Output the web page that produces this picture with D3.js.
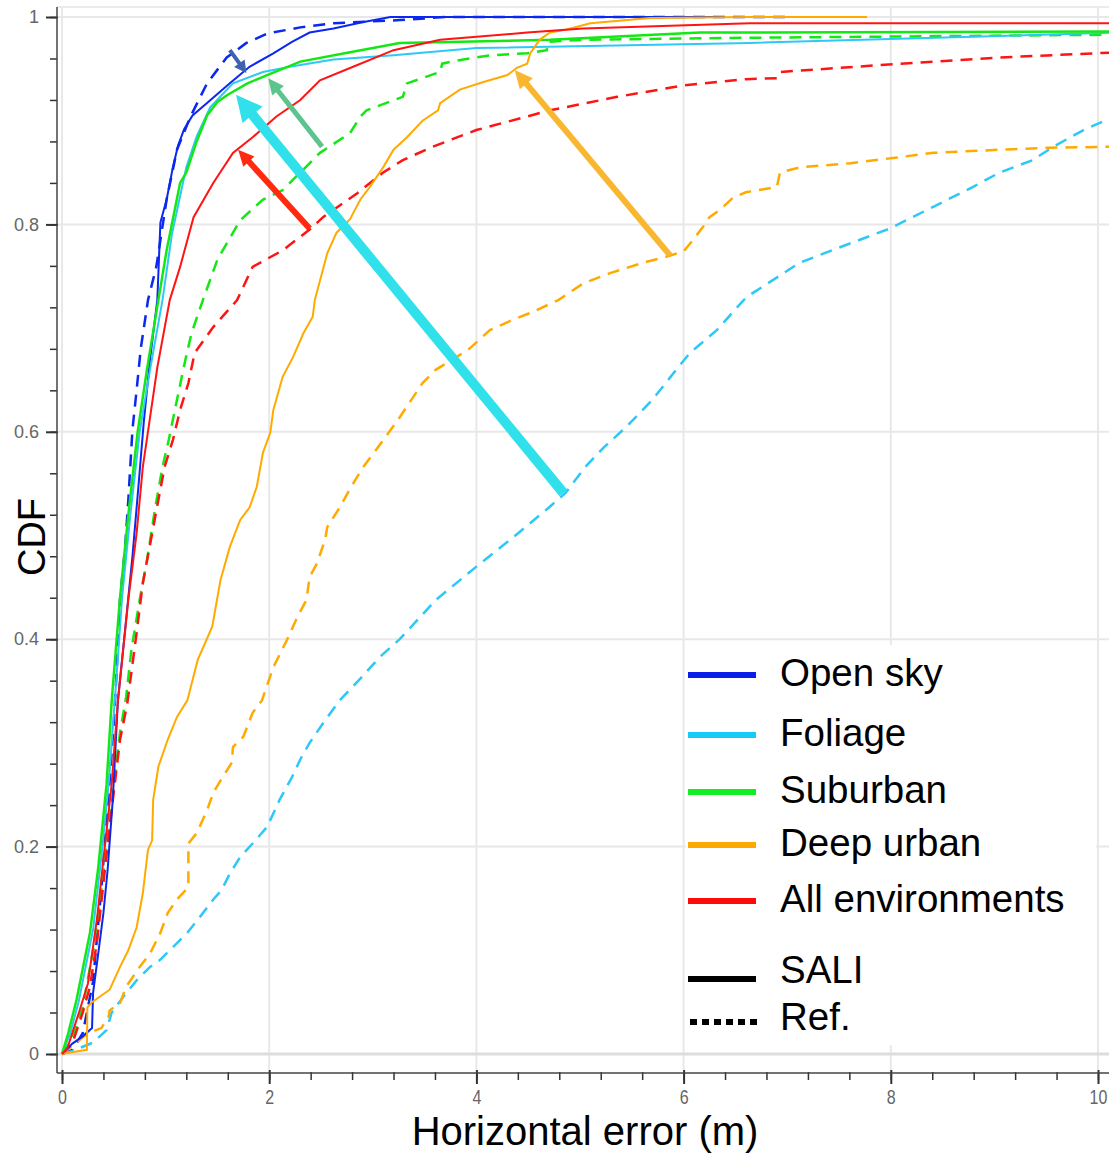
<!DOCTYPE html>
<html>
<head>
<meta charset="utf-8">
<script src="https://cdn.jsdelivr.net/npm/d3@7"></script>
<style>
body { margin: 0; background: #fff; }
svg { display: block; font-family: Arial, "Liberation Sans", sans-serif; }
</style>
</head>
<body>
<div id="cdf_chart"></div>
<script>
// CDF points [horizontal error (m), cdf]
var openSkySali = [[0,0],[0.1,0.01],[0.2,0.017],[0.29,0.025],[0.3,0.059],[0.35,0.097],[0.4,0.136],[0.44,0.177],[0.49,0.245],[0.54,0.341],[0.61,0.41],[0.68,0.48],[0.74,0.55],[0.79,0.61],[0.85,0.67],[0.92,0.727],[0.95,0.802],[1.01,0.824],[1.07,0.855],[1.12,0.876],[1.18,0.892],[1.26,0.905],[1.40,0.917],[1.62,0.936],[1.81,0.952],[2.04,0.965],[2.22,0.976],[2.39,0.985],[2.62,0.989],[2.9,0.995],[3.17,1.0],[6.3,1.0]];
var openSkyRef = [[0,0],[0.1,0.004],[0.2,0.02],[0.3,0.07],[0.38,0.16],[0.45,0.25],[0.5,0.32],[0.53,0.373],[0.56,0.438],[0.61,0.49],[0.64,0.534],[0.68,0.602],[0.72,0.64],[0.76,0.68],[0.83,0.727],[0.91,0.759],[1.01,0.824],[1.11,0.872],[1.24,0.904],[1.40,0.936],[1.59,0.961],[1.78,0.975],[1.98,0.984],[2.3,0.99],[2.62,0.994],[3.26,0.997],[3.7,1.0],[7.0,1.0]];
var foliageSali = [[0,0],[0.08,0.02],[0.16,0.05],[0.3,0.12],[0.38,0.19],[0.45,0.26],[0.51,0.341],[0.58,0.44],[0.66,0.52],[0.75,0.6],[0.85,0.66],[0.97,0.727],[1.06,0.79],[1.2,0.855],[1.3,0.885],[1.43,0.913],[1.65,0.936],[1.94,0.947],[2.20,0.952],[2.62,0.959],[3.2,0.963],[4.0,0.97],[6.64,0.975],[10.2,0.985]];
var foliageRef = [[0,0],[0.1,0.003],[0.3,0.011],[0.43,0.023],[0.48,0.04],[0.59,0.055],[0.72,0.071],[0.85,0.084],[0.95,0.091],[1.07,0.103],[1.21,0.117],[1.33,0.132],[1.46,0.149],[1.54,0.158],[1.62,0.174],[1.72,0.19],[1.84,0.203],[1.98,0.219],[2.10,0.245],[2.22,0.267],[2.30,0.284],[2.39,0.3],[2.52,0.319],[2.68,0.341],[2.88,0.362],[3.07,0.383],[3.26,0.4],[3.61,0.438],[4.0,0.47],[4.40,0.502],[4.70,0.527],[4.86,0.541],[5.05,0.566],[5.23,0.585],[5.45,0.605],[5.70,0.631],[5.93,0.66],[6.06,0.676],[6.32,0.698],[6.58,0.727],[6.67,0.734],[7.12,0.763],[7.51,0.778],[7.99,0.796],[8.41,0.817],[8.79,0.836],[9.05,0.85],[9.37,0.862],[9.57,0.875],[9.86,0.891],[10.2,0.906]];
var suburbanSali = [[0,0],[0.06,0.02],[0.14,0.052],[0.27,0.117],[0.35,0.18],[0.43,0.26],[0.48,0.341],[0.56,0.44],[0.64,0.52],[0.73,0.6],[0.82,0.66],[0.93,0.727],[1.01,0.775],[1.14,0.84],[1.2,0.85],[1.3,0.88],[1.40,0.905],[1.5,0.918],[1.6,0.925],[1.79,0.936],[1.98,0.944],[2.30,0.957],[2.78,0.966],[3.26,0.975],[4.71,0.978],[6.16,0.985],[10.2,0.986]];
var suburbanRef = [[0,0],[0.1,0.015],[0.2,0.045],[0.3,0.1],[0.37,0.15],[0.44,0.21],[0.5,0.26],[0.56,0.31],[0.62,0.345],[0.67,0.39],[0.75,0.438],[0.82,0.476],[0.90,0.527],[0.97,0.566],[1.03,0.592],[1.11,0.631],[1.19,0.669],[1.25,0.695],[1.36,0.727],[1.50,0.766],[1.72,0.804],[1.94,0.824],[2.13,0.833],[2.30,0.85],[2.49,0.869],[2.78,0.888],[2.88,0.904],[2.94,0.91],[3.29,0.923],[3.33,0.936],[3.65,0.947],[3.67,0.955],[3.81,0.958],[4.13,0.963],[4.49,0.965],[4.68,0.968],[4.69,0.976],[5.03,0.978],[6.64,0.98],[10.2,0.983]];
var deepUrbanSali = [[0,0],[0.05,0.001],[0.24,0.004],[0.245,0.045],[0.29,0.05],[0.46,0.062],[0.56,0.084],[0.64,0.1],[0.72,0.122],[0.78,0.155],[0.83,0.197],[0.87,0.206],[0.88,0.245],[0.93,0.277],[1.02,0.303],[1.11,0.325],[1.21,0.341],[1.31,0.38],[1.45,0.412],[1.53,0.457],[1.62,0.489],[1.72,0.515],[1.81,0.527],[1.88,0.547],[1.94,0.58],[2.01,0.599],[2.04,0.621],[2.13,0.653],[2.23,0.672],[2.33,0.695],[2.42,0.711],[2.44,0.727],[2.56,0.772],[2.65,0.792],[2.78,0.805],[2.88,0.824],[2.97,0.836],[3.10,0.855],[3.20,0.872],[3.33,0.884],[3.48,0.9],[3.63,0.91],[3.65,0.917],[3.84,0.93],[4.06,0.937],[4.30,0.944],[4.39,0.951],[4.49,0.955],[4.52,0.965],[4.61,0.978],[4.71,0.985],[4.87,0.988],[5.10,0.994],[5.68,0.999],[6.64,1.0],[7.77,1.0]];
var deepUrbanRef = [[0,0],[0.1,0.008],[0.25,0.02],[0.38,0.025],[0.45,0.036],[0.46,0.042],[0.56,0.049],[0.62,0.065],[0.75,0.084],[0.85,0.097],[0.95,0.117],[1.02,0.136],[1.11,0.149],[1.22,0.161],[1.22,0.203],[1.30,0.213],[1.40,0.235],[1.46,0.252],[1.55,0.267],[1.64,0.281],[1.65,0.296],[1.75,0.306],[1.84,0.329],[1.93,0.341],[2.04,0.373],[2.17,0.399],[2.27,0.421],[2.36,0.438],[2.39,0.46],[2.46,0.473],[2.54,0.496],[2.56,0.508],[2.68,0.527],[2.78,0.545],[2.9,0.565],[3.05,0.585],[3.26,0.614],[3.48,0.647],[3.61,0.66],[3.92,0.679],[4.13,0.698],[4.35,0.708],[4.53,0.715],[4.79,0.727],[5.03,0.743],[5.29,0.753],[5.61,0.763],[5.84,0.769],[6.0,0.774],[6.09,0.785],[6.19,0.798],[6.25,0.807],[6.35,0.814],[6.48,0.826],[6.6,0.831],[6.90,0.836],[6.93,0.85],[7.12,0.855],[7.61,0.859],[8.02,0.864],[8.41,0.869],[9.05,0.872],[9.54,0.874],[10.2,0.875]];
var allEnvSali = [[0,0],[0.05,0.005],[0.17,0.042],[0.25,0.068],[0.34,0.132],[0.41,0.197],[0.48,0.261],[0.54,0.341],[0.64,0.438],[0.72,0.502],[0.78,0.566],[0.85,0.614],[0.92,0.662],[1.04,0.727],[1.14,0.759],[1.27,0.807],[1.46,0.84],[1.65,0.869],[1.84,0.884],[2.07,0.904],[2.30,0.92],[2.49,0.939],[2.81,0.952],[3.2,0.968],[3.65,0.978],[4.49,0.985],[5.03,0.989],[6.64,0.994],[10.2,0.994]];
var allEnvRef = [[0,0],[0.1,0.01],[0.2,0.04],[0.27,0.065],[0.34,0.11],[0.40,0.165],[0.46,0.219],[0.51,0.261],[0.56,0.303],[0.63,0.338],[0.72,0.406],[0.78,0.454],[0.90,0.518],[0.99,0.566],[1.07,0.592],[1.14,0.621],[1.22,0.647],[1.28,0.676],[1.46,0.701],[1.69,0.727],[1.84,0.759],[2.13,0.775],[2.39,0.795],[2.52,0.807],[2.85,0.83],[3.10,0.85],[3.29,0.862],[3.58,0.875],[4.0,0.891],[4.71,0.91],[5.36,0.923],[6.0,0.934],[6.6,0.94],[6.9,0.941],[6.93,0.947],[8.09,0.955],[9.05,0.961],[10.2,0.966]];

var envNames = ["Open sky", "Foliage", "Suburban", "Deep urban", "All environments"];
var envColors = ["#0a28f0", "#2ec8f8", "#14e814", "#ffaa00", "#ff1414"];
var legendColors = ["#0a1ee8", "#14ccf5", "#11ee22", "#ffaa00", "#ff0a0a"];
var xTicks = [0, 2, 4, 6, 8, 10];
var yTicks = [0, 0.2, 0.4, 0.6, 0.8, 1];
var yTickLabels = ["0", "0.2", "0.4", "0.6", "0.8", "1"];

// annotation arrows, tail -> tip in data units
var arrowTails = [[1.62, 0.968], [2.51, 0.875], [2.39, 0.796], [4.84, 0.541], [5.87, 0.770]];
var arrowTips = [[1.78, 0.946], [1.99, 0.941], [1.70, 0.872], [1.68, 0.925], [4.37, 0.949]];
var arrowColors = ["#4060b0", "#5cc48c", "#ff2a10", "#30e0ea", "#f9b731"];

var series = [
    { sali: openSkySali, ref: openSkyRef },
    { sali: foliageSali, ref: foliageRef },
    { sali: suburbanSali, ref: suburbanRef },
    { sali: deepUrbanSali, ref: deepUrbanRef },
    { sali: allEnvSali, ref: allEnvRef }
];

var width = 1109, height = 1153;

var svg = d3.select("#cdf_chart").append("svg")
    .attr("width", width)
    .attr("height", height);

var x = d3.scaleLinear().domain([0, 10]).range([62, 1098]);
var y = d3.scaleLinear().domain([0, 1]).range([1054, 17]);

// grid
svg.append("line")
    .attr("x1", 57).attr("x2", width).attr("y1", 7).attr("y2", 7)
    .style("stroke", "#ebebeb").style("stroke-width", 2);

svg.selectAll(".vgrid")
    .data(xTicks)
    .enter().append("line")
    .attr("class", "vgrid")
    .attr("x1", d => x(d)).attr("x2", d => x(d))
    .attr("y1", 7).attr("y2", 1070)
    .style("stroke", "#e8e8e8").style("stroke-width", 2);

svg.selectAll(".hgrid")
    .data(yTicks)
    .enter().append("line")
    .attr("class", "hgrid")
    .attr("x1", 58).attr("x2", width)
    .attr("y1", d => y(d)).attr("y2", d => y(d))
    .style("stroke", d => d === 0 ? "#dddddd" : "#e8e8e8")
    .style("stroke-width", d => d === 0 ? 3 : 2);

// axes
var yMinor = svg.append("g")
    .attr("transform", "translate(57,0)")
    .call(d3.axisLeft(y).tickValues(d3.range(0, 1.001, 0.04)).tickSize(7).tickFormat(""));
var yMajor = svg.append("g")
    .attr("transform", "translate(58,0)")
    .call(d3.axisLeft(y).tickValues(yTicks).tickSize(12).tickPadding(7)
        .tickFormat((d, i) => yTickLabels[i]));

var xMinor = svg.append("g")
    .attr("transform", "translate(0,1072)")
    .call(d3.axisBottom(x).tickValues(d3.range(0, 10.3, 0.4)).tickSize(8).tickFormat(""));
var xMajor = svg.append("g")
    .attr("transform", "translate(0,1070)")
    .call(d3.axisBottom(x).tickValues(xTicks).tickSize(14).tickPadding(6));

[yMinor, yMajor, xMinor, xMajor].forEach(function(g) {
    g.select(".domain").remove();
    g.selectAll(".tick line").style("stroke", "#333").style("stroke-width", 2);
    g.selectAll(".tick text").style("fill", "#666").style("font-family", "Arial, 'Liberation Sans', sans-serif");
});
yMinor.selectAll(".tick line").style("stroke-width", 1.5);
xMinor.selectAll(".tick line").style("stroke-width", 1.5);
yMajor.selectAll(".tick text").style("font-size", "18px");
xMajor.selectAll(".tick text").style("font-size", "20px").attr("transform", "scale(0.8,1)");

svg.append("line")
    .attr("x1", 57).attr("x2", 57).attr("y1", 7).attr("y2", 1073)
    .style("stroke", "#444").style("stroke-width", 1.5);
svg.append("line")
    .attr("x1", 57).attr("x2", width).attr("y1", 1073).attr("y2", 1073)
    .style("stroke", "#444").style("stroke-width", 1.5);

// curves
var line = d3.line()
    .x(d => x(d[0]))
    .y(d => y(d[1]));

series.forEach(function(s, i) {
    svg.append("path")
        .datum(s.ref)
        .attr("d", line)
        .style("fill", "none")
        .style("stroke", envColors[i])
        .style("stroke-width", 2.5)
        .style("stroke-dasharray", "12,8");
});
series.forEach(function(s, i) {
    svg.append("path")
        .datum(s.sali)
        .attr("d", line)
        .style("fill", "none")
        .style("stroke", envColors[i])
        .style("stroke-width", i === 2 ? 2.5 : 2);
});

// arrows
var arrowWidths = [4, 5, 6, 10, 6];
var headLens = [12, 16, 16, 26, 18];
var headWidths = [13, 15, 15, 26, 17];

arrowTails.forEach(function(t, i) {
    var x1 = x(t[0]), y1 = y(t[1]);
    var x2 = x(arrowTips[i][0]), y2 = y(arrowTips[i][1]);
    var len = Math.hypot(x2 - x1, y2 - y1);
    var ux = (x2 - x1) / len, uy = (y2 - y1) / len;
    var bx = x2 - ux * headLens[i], by = y2 - uy * headLens[i];
    var hw = headWidths[i] / 2;
    svg.append("line")
        .attr("x1", x1).attr("y1", y1).attr("x2", bx + ux).attr("y2", by + uy)
        .style("stroke", arrowColors[i])
        .style("stroke-width", arrowWidths[i]);
    svg.append("polygon")
        .attr("points", [[x2, y2], [bx - uy * hw, by + ux * hw], [bx + uy * hw, by - ux * hw]].join(" "))
        .style("fill", arrowColors[i]);
});

// legend
var legend = svg.append("g");
legend.append("rect")
    .attr("x", 686).attr("y", 645)
    .attr("width", 410).attr("height", 400)
    .style("fill", "#fff");

var rowY = [675, 735, 792, 845, 901];
var item = legend.selectAll(".legend")
    .data(envNames)
    .enter().append("g")
    .attr("class", "legend")
    .attr("transform", (d, i) => "translate(0," + rowY[i] + ")");
item.append("line")
    .attr("x1", 688).attr("x2", 756)
    .style("stroke", (d, i) => legendColors[i])
    .style("stroke-width", 6);
item.append("text")
    .attr("x", 780).attr("y", -2)
    .attr("dy", "0.35em")
    .style("font-size", "38.5px")
    .text(d => d);

legend.append("line")
    .attr("x1", 688).attr("x2", 756).attr("y1", 979).attr("y2", 979)
    .style("stroke", "#000").style("stroke-width", 6);
legend.append("text")
    .attr("x", 780).attr("y", 970).attr("dy", "0.35em")
    .style("font-size", "38.5px")
    .text("SALI");
legend.append("line")
    .attr("x1", 690).attr("x2", 762).attr("y1", 1022).attr("y2", 1022)
    .style("stroke", "#000").style("stroke-width", 6)
    .style("stroke-dasharray", "7,5");
legend.append("text")
    .attr("x", 780).attr("y", 1017).attr("dy", "0.35em")
    .style("font-size", "38.5px")
    .text("Ref.");

// axis titles
svg.append("text")
    .attr("x", 585).attr("y", 1145)
    .style("text-anchor", "middle")
    .style("font-size", "40px")
    .text("Horizontal error (m)");
svg.append("text")
    .attr("transform", "translate(45,537) rotate(-90)")
    .style("text-anchor", "middle")
    .style("font-size", "38px")
    .text("CDF");
</script>
</body>
</html>
